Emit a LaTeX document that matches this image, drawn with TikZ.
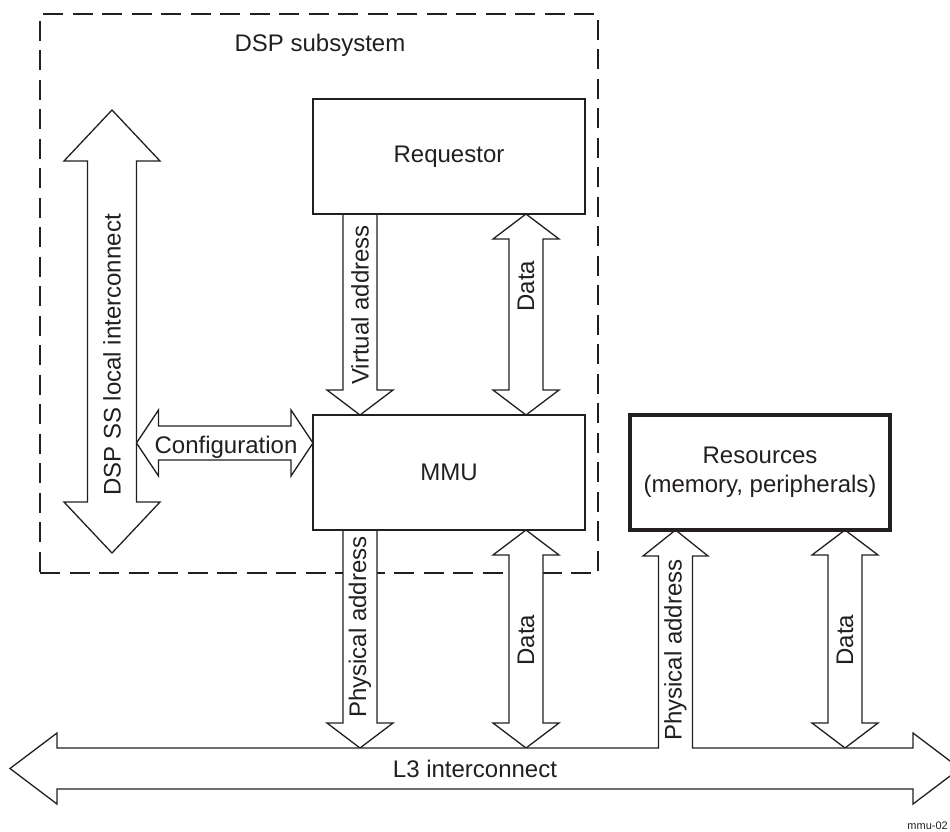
\documentclass[tikz,border=0pt]{standalone}
\usepackage{fontspec}
\setmainfont{Liberation Sans}
\usetikzlibrary{positioning,calc,backgrounds}
\definecolor{mmInk}{HTML}{231F20}
\newcommand{\lblfont}{\fontsize{24}{29}\selectfont}
\tikzset{
  unit/.style={draw=mmInk, line width=2pt, minimum width=272pt, minimum height=115pt, inner sep=0pt, outer sep=0pt, font=\lblfont, text=mmInk},
  unitR/.style={unit, line width=3.5pt, minimum width=260pt, align=center},
  blk/.style={draw=mmInk, fill=white, line width=1.3pt, line join=miter},
  txt/.style={inner sep=0pt, font=\lblfont, text=mmInk},
  txtV/.style={txt, rotate=90},
  ssbox/.style={draw=mmInk, line width=2.6pt, dash pattern=on 20pt off 9.5pt, inner sep=0pt},
}
% block arrow pointing down: tail, tip
\newcommand{\downarr}[2]{%
  \draw[blk] ($(#1)+(-17,0)$) -- ($(#2)+(-17,-25)$) -- ($(#2)+(-33,-25)$) -- (#2) -- ($(#2)+(33,-25)$) -- ($(#2)+(17,-25)$) -- ($(#1)+(17,0)$);}
% vertical double arrow: top tip, bottom tip, shaft half, head half, head length
\newcommand{\vdbl}[5]{%
  \draw[blk] (#1) -- ($(#1)+(#4,#5)$) -- ($(#1)+(#3,#5)$) -- ($(#2)+(#3,-#5)$) -- ($(#2)+(#4,-#5)$) -- (#2) -- ($(#2)+(-#4,-#5)$) -- ($(#2)+(-#3,-#5)$) -- ($(#1)+(-#3,#5)$) -- ($(#1)+(-#4,#5)$) -- cycle;}
% horizontal double arrow: left tip, right tip, shaft half, head half, head length
\newcommand{\hdbl}[5]{%
  \draw[blk] (#1) -- ($(#1)+(#5,-#4)$) -- ($(#1)+(#5,-#3)$) -- ($(#2)+(-#5,-#3)$) -- ($(#2)+(-#5,-#4)$) -- (#2) -- ($(#2)+(-#5,#4)$) -- ($(#2)+(-#5,#3)$) -- ($(#1)+(#5,#3)$) -- ($(#1)+(#5,#4)$) -- cycle;}

\begin{document}
\begin{tikzpicture}[x=1pt, y=-1pt]
  \useasboundingbox (0,0) rectangle (950,831);
  \node[unit] (req) at (449,156.5) {Requestor};
  \node[unit, below=201pt of req] (mmu) {MMU};
  \node[unitR, right=45pt of mmu] (res) {Resources\\(memory, peripherals)};
  \coordinate (vaX) at ($(mmu.west)+(47,0)$);
  \coordinate (dX) at ($(mmu.west)+(213,0)$);
  \coordinate (paX) at ($(res.west)+(45.5,0)$);
  \coordinate (rdX) at ($(res.west)+(215,0)$);
  \coordinate (ssT) at (112,110);
  \coordinate (ssB) at (112,553);
  \coordinate (l3L) at (10,768.5);
  \coordinate (l3R) at (960,768.5);
  \coordinate (l3T) at (0,748);
  \begin{scope}[on background layer]
    \node[ssbox, minimum width=558pt, minimum height=559pt] (dsp) at (319,293.5) {};
    \vdbl{ssT}{ssB}{24.5}{48}{51}
    \hdbl{$(ssT)+(24.5,333)$}{$(mmu.west)+(0,-29.5)$}{17}{33}{22}
    \downarr{req.south -| vaX}{mmu.north -| vaX}
    \vdbl{req.south -| dX}{mmu.north -| dX}{17}{33}{25}
    \downarr{mmu.south -| vaX}{l3T -| vaX}
    \vdbl{mmu.south -| dX}{l3T -| dX}{17}{33}{25}
    \vdbl{res.south -| rdX}{l3T -| rdX}{17}{33}{25}
    \draw[blk] (l3L) -- ($(l3L)+(47,-35.5)$) -- ($(l3L)+(47,-20.5)$) -- ($(paX |- l3L)+(-17,-20.5)$) -- ($(res.south -| paX)+(-17,26)$) -- ($(res.south -| paX)+(-32.5,26)$) -- (res.south -| paX) -- ($(res.south -| paX)+(32.5,26)$) -- ($(res.south -| paX)+(17,26)$) -- ($(paX |- l3L)+(17,-20.5)$) -- ($(l3R)+(-47,-20.5)$) -- ($(l3R)+(-47,-35.5)$) -- (l3R) -- ($(l3R)+(-47,35.5)$) -- ($(l3R)+(-47,20.5)$) -- ($(l3L)+(47,20.5)$) -- ($(l3L)+(47,35.5)$) -- cycle;
  \end{scope}
  \node[txt] (dspT) at (320,45) {DSP subsystem};
  \node[txtV] (ssLbl) at (112,355) {DSP SS local interconnect};
  \node[txt] (cfgLbl) at (226,447) {Configuration};
  \node[txtV] (vaLbl) at (360,305) {Virtual address};
  \node[txtV] (d1Lbl) at (526,286) {Data};
  \node[txtV] (paLbl) at (360,627) {Physical address};
  \node[txtV] (d2Lbl) at (526,640) {Data};
  \node[txtV] (pa2Lbl) at (675.5,650) {Physical address};
  \node[txtV] (d3Lbl) at (845,640) {Data};
  \node[txt] (l3Lbl) at (475,769) {L3 interconnect};
  \node[inner sep=0pt, anchor=south east, font=\fontsize{11}{13}\selectfont, text=mmInk] (figId) at (948,830) {mmu-02};
\end{tikzpicture}
\end{document}
